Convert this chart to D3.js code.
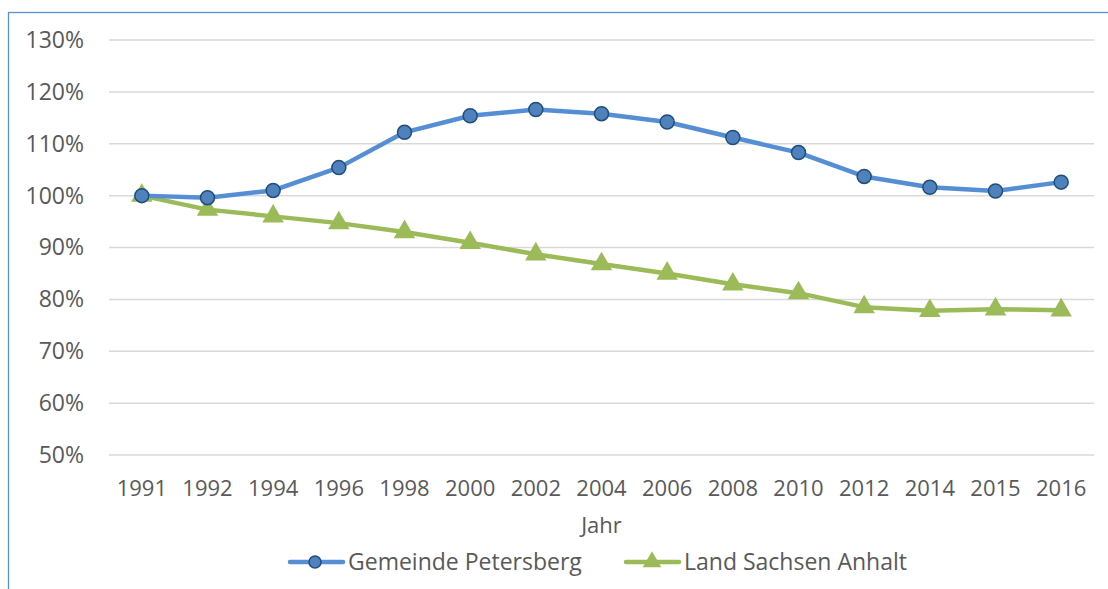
<!DOCTYPE html>
<html>
<head>
<meta charset="utf-8">
<script src="https://cdn.jsdelivr.net/npm/d3@7"></script>
<style>
  body { margin: 0; background: #fff; }
  svg text { font-family: "Open Sans", "Noto Sans", sans-serif; fill: #595959; }
</style>
</head>
<body>
<div id="chart"></div>
<script>
// data
var years = ["1991", "1992", "1994", "1996", "1998", "2000", "2002", "2004", "2006", "2008", "2010", "2012", "2014", "2015", "2016"];
var petersberg = [100, 99.6, 101, 105.4, 112.2, 115.4, 116.6, 115.8, 114.2, 111.2, 108.3, 103.7, 101.6, 100.9, 102.6];
var sachsenAnhalt = [100, 97.3, 96.0, 94.7, 93.0, 90.9, 88.7, 86.8, 85.0, 82.9, 81.2, 78.5, 77.8, 78.1, 77.9];
var yTicks = [50, 60, 70, 80, 90, 100, 110, 120, 130];
var seriesNames = ["Gemeinde Petersberg", "Land Sachsen Anhalt"];

var width = 1108, height = 589;
var margin = {top: 40, right: 14, bottom: 134, left: 109};
var font = "'Open Sans', 'Noto Sans', sans-serif";

var svg = d3.select("#chart").append("svg")
    .attr("width", width)
    .attr("height", height);

// chart border (only left and top visible in the crop)
svg.append("rect")
    .attr("x", 8.5).attr("y", 12.5)
    .attr("width", 1200).attr("height", 700)
    .attr("fill", "none")
    .attr("stroke", "#5b8fd0")
    .attr("stroke-width", 1.3);

var x = d3.scaleBand().domain(years).range([margin.left, width - margin.right]);
var y = d3.scaleLinear().domain([50, 130]).range([height - margin.bottom, margin.top]);

// gridlines
svg.append("g")
    .selectAll("line")
    .data(yTicks)
    .enter().append("line")
    .attr("x1", margin.left)
    .attr("x2", width - margin.right)
    .attr("y1", function(d) { return y(d); })
    .attr("y2", function(d) { return y(d); })
    .attr("stroke", "#d9d9d9")
    .attr("stroke-width", 1.5);

// y axis labels
var yAxis = d3.axisLeft(y).tickValues(yTicks).tickSize(0).tickPadding(0)
    .tickFormat(function(d) { return d + "%"; });
svg.append("g")
    .attr("transform", "translate(84,0)")
    .call(yAxis)
    .call(function(g) { g.select(".domain").remove(); })
    .selectAll("text")
    .style("font-size", "23px")
    .style("font-family", font)
    .attr("fill", "#595959");

// x axis labels
var xAxis = d3.axisBottom(x).tickSize(0).tickPadding(0);
svg.append("g")
    .attr("transform", "translate(0,480)")
    .call(xAxis)
    .call(function(g) { g.select(".domain").remove(); })
    .selectAll("text")
    .style("font-size", "22px")
    .style("font-family", font)
    .attr("fill", "#595959");

svg.append("text")
    .attr("x", x("2004") + x.bandwidth() / 2)
    .attr("y", 533)
    .attr("text-anchor", "middle")
    .style("font-size", "22px")
    .text("Jahr");

function cx(d, i) { return x(years[i]) + x.bandwidth() / 2; }

var line = d3.line()
    .x(cx)
    .y(function(d) { return y(d); });

svg.append("path")
    .datum(sachsenAnhalt)
    .attr("d", line)
    .attr("fill", "none")
    .attr("stroke", "#9bbb59")
    .attr("stroke-width", 4.5)
    .attr("stroke-linejoin", "round");

svg.append("path")
    .datum(petersberg)
    .attr("d", line)
    .attr("fill", "none")
    .attr("stroke", "#558ed5")
    .attr("stroke-width", 4.5)
    .attr("stroke-linejoin", "round");

var triangle = d3.symbol().type(d3.symbolTriangle).size(200);

svg.append("g")
    .selectAll("path")
    .data(sachsenAnhalt)
    .enter().append("path")
    .attr("d", triangle)
    .attr("transform", function(d, i) { return "translate(" + cx(d, i) + "," + y(d) + ")"; })
    .attr("fill", "#9bbb59");

svg.append("g")
    .selectAll("circle")
    .data(petersberg)
    .enter().append("circle")
    .attr("cx", cx)
    .attr("cy", function(d) { return y(d); })
    .attr("r", 7)
    .attr("fill", "#4f81bd")
    .attr("stroke", "#1f4e79")
    .attr("stroke-width", 1.5);

// legend
var legend = svg.append("g").attr("transform", "translate(0,562)");

legend.append("line")
    .attr("x1", 290).attr("x2", 343)
    .attr("stroke", "#558ed5").attr("stroke-width", 4.5).attr("stroke-linecap", "round");
legend.append("circle")
    .attr("cx", 315).attr("r", 6)
    .attr("fill", "#4f81bd").attr("stroke", "#1f4e79").attr("stroke-width", 1.5);
legend.append("text")
    .attr("x", 348).attr("y", 8)
    .style("font-size", "23px")
    .text(seriesNames[0]);

legend.append("line")
    .attr("x1", 626).attr("x2", 679)
    .attr("stroke", "#9bbb59").attr("stroke-width", 4.5).attr("stroke-linecap", "round");
legend.append("path")
    .attr("d", d3.symbol().type(d3.symbolTriangle).size(150))
    .attr("transform", "translate(652,0)")
    .attr("fill", "#9bbb59");
legend.append("text")
    .attr("x", 684).attr("y", 8)
    .style("font-size", "23px")
    .text(seriesNames[1]);
</script>
</body>
</html>
